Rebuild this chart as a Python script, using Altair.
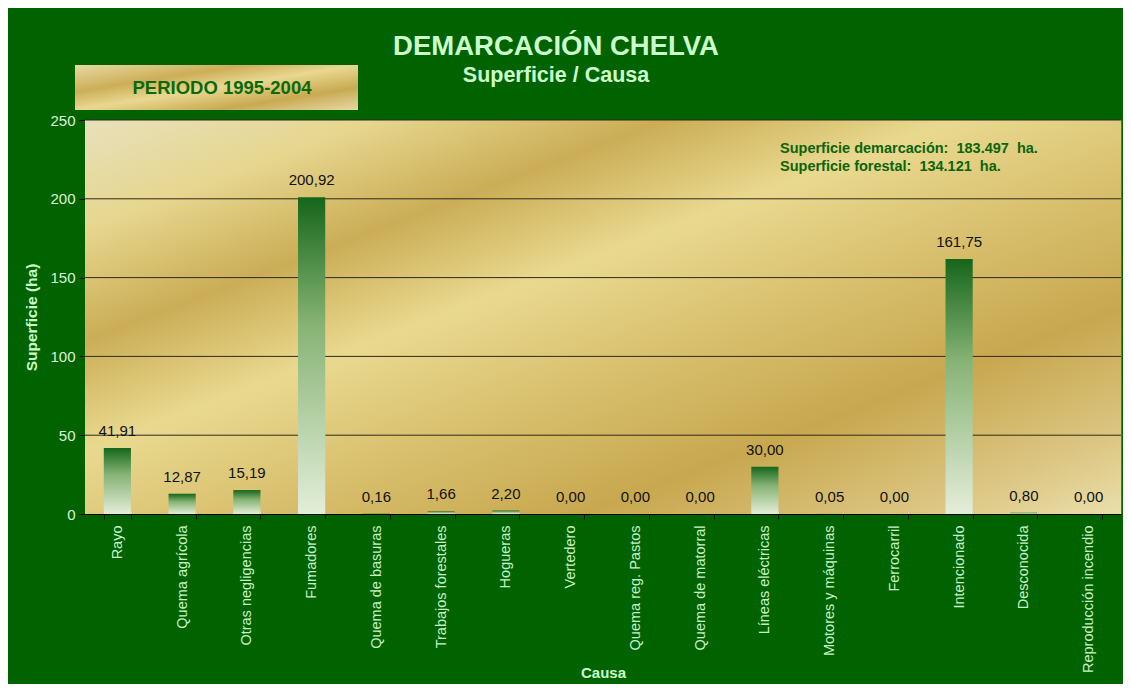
import altair as alt
import pandas as pd

causas = ["Rayo", "Quema agrícola", "Otras negligencias", "Fumadores", "Quema de basuras",
          "Trabajos forestales", "Hogueras", "Vertedero", "Quema reg. Pastos", "Quema de matorral",
          "Líneas eléctricas", "Motores y máquinas", "Ferrocarril", "Intencionado", "Desconocida",
          "Reproducción incendio"]
superficie = [41.91, 12.87, 15.19, 200.92, 0.16, 1.66, 2.20, 0.00, 0.00, 0.00,
              30.00, 0.05, 0.00, 161.75, 0.80, 0.00]
etiquetas = [f"{v:.2f}".replace(".", ",") for v in superficie]
y_ticks = [0, 50, 100, 150, 200, 250]
titulo = "DEMARCACIÓN CHELVA"
subtitulo = "Superficie / Causa"
periodo = "PERIODO 1995-2004"
notas = ["Superficie demarcación:\u00a0 183.497\u00a0 ha.", "Superficie forestal:\u00a0 134.121\u00a0 ha."]

W, H = 1036, 394
FONT = "Liberation Sans"

df = pd.DataFrame({"Causa": causas, "Superficie": superficie, "Etiqueta": etiquetas})
grid_df = pd.DataFrame({"Superficie": y_ticks[1:]})
one = pd.DataFrame({"k": [0]})

def stops(pairs):
    return [alt.GradientStop(color=c, offset=o) for o, c in pairs]

gold = alt.Gradient(gradient="linear", x1=0, y1=0, x2=1, y2=1, stops=stops([
    (0.0, "#E8E0BC"), (0.14, "#E6D68E"), (0.28, "#CBAD56"), (0.42, "#E9D98F"),
    (0.56, "#DAC271"), (0.74, "#C8A84F"), (0.9, "#DCC683"), (1.0, "#EADFAA")]))
gold_box = alt.Gradient(gradient="linear", x1=0, y1=0, x2=1, y2=1, stops=stops([
    (0.0, "#E6DAA0"), (0.3, "#CDAE58"), (0.5, "#E8D890"), (0.75, "#C9AA52"), (1.0, "#E6D9A6")]))
bar_grad = alt.Gradient(gradient="linear", x1=0, y1=0, x2=0, y2=1, stops=stops([
    (0.0, "#15661A"), (0.4, "#86B374"), (1.0, "#E4EED9")]))

x_enc = alt.X("Causa:N", sort=None, title="Causa",
              scale=alt.Scale(paddingInner=0.58, paddingOuter=0.29),
              axis=alt.Axis(labelAngle=-90, labelFontSize=14.5, labelColor="#C8F2C8", labelFont=FONT,
                            labelPadding=6, tickColor="#000000", tickSize=5, tickBand="extent",
                            domainColor="#000000", titleColor="#CCFFCC", titleFont=FONT,
                            titleFontSize=15, titleFontWeight="bold", titleY=151))
y_enc = alt.Y("Superficie:Q", title="Superficie (ha)",
              scale=alt.Scale(domain=[0, 250], nice=False),
              axis=alt.Axis(values=y_ticks, grid=False, labelFontSize=15, labelColor="#DDF2D8",
                            labelFont=FONT, labelPadding=4, tickColor="#000000", tickSize=6,
                            domainColor="#000000", titleColor="#CCFFCC", titleFont=FONT,
                            titleFontSize=15.5, titleFontWeight="bold", titleX=-46))

bg = alt.Chart(one).mark_rect(color=gold).encode(
    x=alt.value(0), x2=alt.value(W), y=alt.value(0), y2=alt.value(H))

grid = alt.Chart(grid_df).mark_rule(color="#2E2A1C", strokeWidth=1).encode(y=y_enc)

bars = alt.Chart(df).mark_bar(color=bar_grad).encode(x=x_enc, y=y_enc)

labels = alt.Chart(df).mark_text(baseline="bottom", dy=-9, fontSize=15, font=FONT,
                                 color="#111111").encode(x=x_enc, y=y_enc, text="Etiqueta:N")

box = alt.Chart(one).mark_rect(color=gold_box).encode(
    x=alt.value(-10), x2=alt.value(273), y=alt.value(-55), y2=alt.value(-10))
box_text = alt.Chart(one).mark_text(text=periodo, fontSize=18.5, fontWeight="bold", font=FONT,
                                    color="#0A6A0A", baseline="middle").encode(
    x=alt.value(137), y=alt.value(-32))

title_t = alt.Chart(one).mark_text(text=titulo, fontSize=27.5, fontWeight="bold", font=FONT,
                                   color="#CCFFCC", baseline="alphabetic").encode(
    x=alt.value(471), y=alt.value(-65))
sub_t = alt.Chart(one).mark_text(text=subtitulo, fontSize=21.5, fontWeight="bold", font=FONT,
                                 color="#CCFFCC", baseline="alphabetic").encode(
    x=alt.value(471), y=alt.value(-38))

nota1 = alt.Chart(one).mark_text(text=notas[0], fontSize=14.5, fontWeight="bold", font=FONT,
                                 color="#0B650B", align="left", baseline="alphabetic").encode(
    x=alt.value(695), y=alt.value(33))
nota2 = alt.Chart(one).mark_text(text=notas[1], fontSize=14.5, fontWeight="bold", font=FONT,
                                 color="#0B650B", align="left", baseline="alphabetic").encode(
    x=alt.value(695), y=alt.value(51))

chart = alt.layer(bg, grid, bars, labels, box, box_text, title_t, sub_t, nota1, nota2).properties(
    width=W, height=H,
    background="#006300",
    padding={"left": 77, "top": 112, "right": 2, "bottom": 170},
    autosize=alt.AutoSizeParams(type="none"),
).configure_view(stroke="#6A6A5A", strokeWidth=1)

chart.save("out.html", embed_options={"renderer": "svg", "actions": False})
